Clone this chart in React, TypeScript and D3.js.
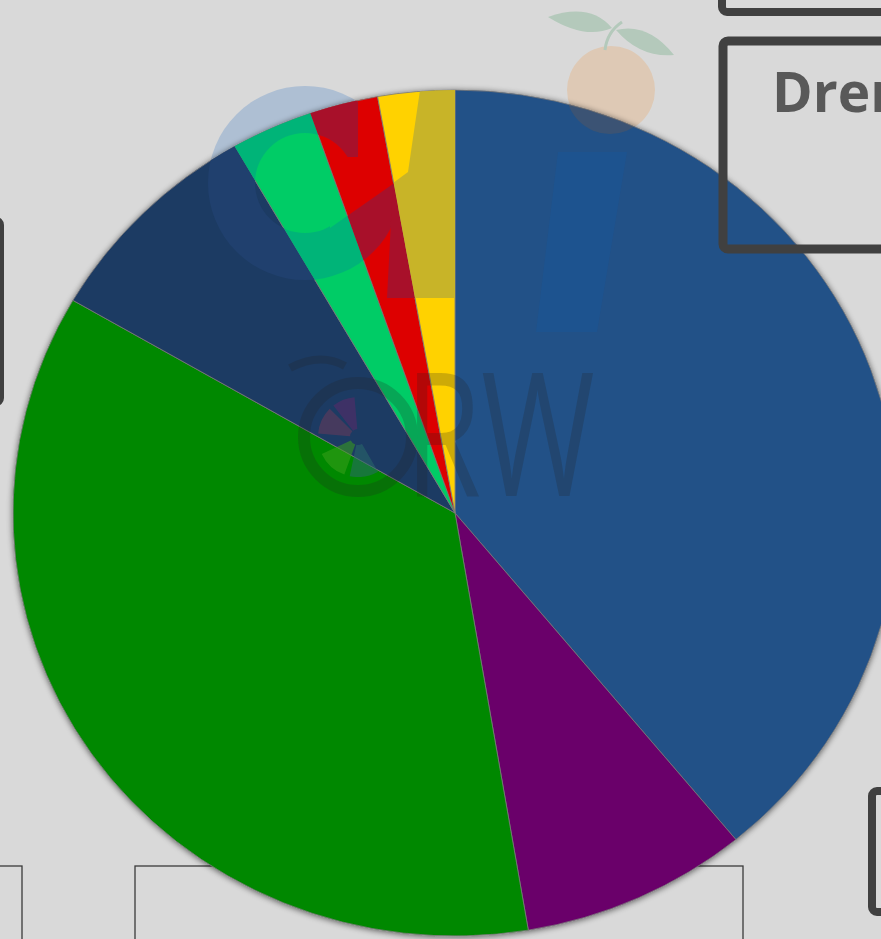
import React from "react";
import * as d3 from "d3";

const categories = ["Blue", "Purple", "Green", "Navy", "Teal", "Red", "Yellow"];
const values = [39.0, 8.3, 36.0, 8.3, 3.0, 2.5, 2.8];
const colors = ["#245187", "#6a006a", "#008800", "#1e3a64", "#00cc66", "#dd0000", "#ffd200"];
// tinted versions of slices where the faint watermark letters cross them
const tintColors = ["#245187", "#6a006a", "#008800", "#20406e", "#00b478", "#a8102a", "#c8b428"];

// small logo wedges inside the "O" of the watermark (degrees, clockwise from top)
const logoStart = [-38, -85, -160, 150];
const logoEnd = [-5, -45, -115, 192];
const logoColors = ["#5a2a6a", "#6a3a5a", "#3aa01a", "#2a6a6a"];

const W = 881;
const H = 939;
const CX = 455;
const CY = 513;
const RY = 423;
const RX = 442;

export default function App() {
  const data = categories.map((c, i) => ({ c, v: values[i], col: colors[i], tint: tintColors[i] }));
  const pie = d3.pie<any>().value((d) => d.v).sort(null).startAngle(0).endAngle(2 * Math.PI);
  const arc = d3.arc<any>().innerRadius(0).outerRadius(RY);
  const arcs = pie(data);
  const tr = `translate(${CX},${CY}) scale(${RX / RY},1)`;
  const logoArc = d3.arc<any>().innerRadius(8).outerRadius(40);
  const rad = (d: number) => (d * Math.PI) / 180;
  return (
    <svg width={W} height={H} style={{ display: "block", position: "absolute", left: 0, top: 0 }}>
      <defs>
        <filter id="sh" x="-10%" y="-10%" width="120%" height="120%">
          <feGaussianBlur in="SourceAlpha" stdDeviation="3" />
          <feOffset dx="0" dy="1" />
          <feComponentTransfer><feFuncA type="linear" slope="0.6" /></feComponentTransfer>
          <feMerge><feMergeNode /><feMergeNode in="SourceGraphic" /></feMerge>
        </filter>
        {arcs.map((a, i) => (
          <clipPath id={`sl${i}`} key={i}>
            <path d={arc(a) as string} transform={tr} />
          </clipPath>
        ))}
        <mask id="cmask">
          <rect x={0} y={0} width={W} height={H} fill="black" />
          <circle cx={305} cy={183} r={97} fill="white" />
          <circle cx={305} cy={183} r={50} fill="black" />
          <polygon points="358,60 470,60 470,130 330,228 330,157 358,157" fill="black" />
        </mask>
        <mask id="amask">
          <rect x={0} y={0} width={W} height={H} fill="black" />
          <polygon points="420,90 470,90 470,298 387,298 393,183 408,172" fill="white" />
        </mask>
      </defs>
      <rect x={0} y={0} width={W} height={H} fill="#d9d9d9" />
      {/* thin boxes behind the pie */}
      <rect x={-20} y={866} width={42} height={120} fill="none" stroke="#3a3a3a" strokeWidth={1.3} />
      <rect x={135} y={866} width={608} height={120} fill="none" stroke="#3a3a3a" strokeWidth={1.3} />

      {/* watermark elements behind */}
      <g opacity={0.9}>
        <circle cx={611} cy={90} r={44} fill="#dfc8b2" />
        <path d="M 548 17 Q 590 2 612 28 Q 585 40 548 17 Z" fill="#b0c8b8" />
        <path d="M 616 30 Q 648 22 674 55 Q 640 58 616 30 Z" fill="#b0c8b8" />
        <path d="M 605 50 Q 607 32 622 22" stroke="#b0c8b8" strokeWidth={3} fill="none" />
      </g>
      <circle cx={305} cy={183} r={97} fill="#aebfd3" />

      <g filter="url(#sh)">
        <g transform={tr}>
          {arcs.map((a, i) => (
            <path key={i} d={arc(a) as string} fill={a.data.col} stroke="#7a7a7a" strokeWidth={0.8} vectorEffect="non-scaling-stroke" />
          ))}
        </g>
      </g>

      {/* watermark letters over the pie, as tints of each slice */}
      {[3, 4, 5].map((i) => (
        <g key={`c${i}`} clipPath={`url(#sl${i})`}>
          <rect x={0} y={0} width={W} height={H} fill={tintColors[i]} mask="url(#cmask)" />
        </g>
      ))}
      {[5, 6].map((i) => (
        <g key={`a${i}`} clipPath={`url(#sl${i})`}>
          <rect x={0} y={0} width={W} height={H} fill={tintColors[i]} mask="url(#amask)" />
        </g>
      ))}
      <g clipPath="url(#sl0)">
        <polygon points="558,152 627,152 597,332 536,332" fill="#1a5596" opacity={0.55} />
        <circle cx={610} cy={90} r={44} fill="#6a5a50" opacity={0.35} />
      </g>
      <g transform="translate(358,437)" opacity={0.55}>
        {logoStart.map((s, i) => (
          <path key={i} d={logoArc({ startAngle: rad(s), endAngle: rad(logoEnd[i]) }) as string} fill={logoColors[i]} />
        ))}
      </g>
      <g opacity={0.22}>
        <circle cx={358} cy={437} r={54} fill="none" stroke="#222" strokeWidth={12} />
        <path d="M 290 368 Q 320 352 345 366" stroke="#222" strokeWidth={8} fill="none" />
        <text x={405} y={496} fontFamily="Open Sans, sans-serif" fontSize={172} fill="#222" fontWeight={400} textLength={190} lengthAdjust="spacingAndGlyphs">RW</text>
      </g>

      {/* thick framed boxes on top */}
      <rect x={722} y={-40} width={200} height={52} rx={5} fill="none" stroke="#404040" strokeWidth={8} />
      <rect x={723} y={41} width={200} height={208} rx={5} fill="none" stroke="#404040" strokeWidth={9} />
      <text x={772} y={112} fontFamily="Open Sans, sans-serif" fontWeight={700} fontSize={55} fill="#595959">Dren</text>
      <rect x={-100} y={220} width={101} height={183} rx={5} fill="none" stroke="#404040" strokeWidth={6} />
      <rect x={872} y={791} width={100} height={121} rx={5} fill="none" stroke="#404040" strokeWidth={8} />
    </svg>
  );
}
